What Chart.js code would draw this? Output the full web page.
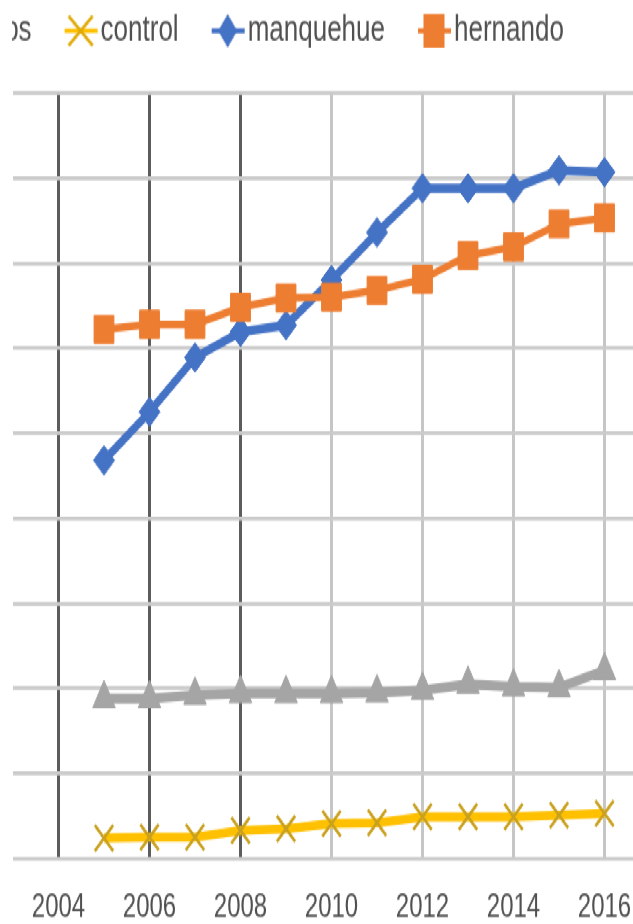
<!DOCTYPE html>
<html>
<head>
<meta charset="utf-8">
<script src="https://cdn.jsdelivr.net/npm/chart.js@4.4.1/dist/chart.umd.min.js"></script>
<style>
  html, body { margin: 0; padding: 0; background: #fff; overflow: hidden; width: 633px; height: 924px; }
  /* the chart is laid out in a short frame and stretched to the page height */
  #frame { position: absolute; left: 12px; top: 0; width: 621px; height: 660px; overflow: hidden;
           transform: scaleY(1.4); transform-origin: 0 0; background: #fff; }
  #chart { position: absolute; top: 0; }
</style>
</head>
<body>
<div id="frame"><canvas id="chart"></canvas></div>
<script>
// ---- data ----
const years = [2005, 2006, 2007, 2008, 2009, 2010, 2011, 2012, 2013, 2014, 2015, 2016];
const xTickLabels = [2004, 2006, 2008, 2010, 2012, 2014, 2016];
const seriesNames = ['todos', 'control', 'manquehue', 'hernando'];
const todos     = [18.8, 18.8, 19.2, 19.4, 19.4, 19.4, 19.5, 19.8, 20.5, 20.2, 20.1, 22.1];
const control   = [2.4, 2.5, 2.5, 3.3, 3.5, 4.1, 4.2, 4.9, 4.9, 4.9, 5.1, 5.3];
const manquehue = [46.8, 52.5, 58.9, 61.9, 62.7, 68.0, 73.6, 78.8, 78.8, 78.8, 80.9, 80.7];
const hernando  = [62.2, 62.8, 62.8, 64.8, 65.9, 66.0, 66.8, 68.1, 70.9, 71.9, 74.6, 75.3];

// ---- look ----
const GRAY = '#a5a5a5', GOLD = '#ffc000', BLUE = '#4472c4', ORANGE = '#ed7d31';
const TEXT = '#505050';
const FONT = '"Liberation Sans", Arial, sans-serif';
const LEG_FONT = 26, LEG_PAD = 6, LEG_BOX = 50;

// position the canvas so the legend row starts off to the left of the frame
const measure = document.createElement('canvas').getContext('2d');
measure.font = LEG_FONT + 'px ' + FONT;
const firstLabelW = measure.measureText(seriesNames[0]).width;
const canvasLeft = Math.round(32 - (LEG_PAD + LEG_BOX + LEG_FONT / 2 + firstLabelW));
const plotLeft = 13;
const canvas = document.getElementById('chart');
canvas.width = 633 - canvasLeft;
canvas.height = 663;
canvas.style.left = (canvasLeft - 12) + 'px';

// legend icons: a short piece of the series line with its marker
function legendIcon(color, lineW, drawMark) {
  const c = document.createElement('canvas');
  c.width = LEG_BOX + LEG_FONT;
  c.height = 30;
  const g = c.getContext('2d');
  const cy = 15, cx = c.width - 20;
  g.strokeStyle = color;
  g.lineWidth = lineW;
  g.beginPath(); g.moveTo(cx - 16, cy); g.lineTo(cx + 17, cy); g.stroke();
  drawMark(g, cx, cy);
  return c;
}
const legendIcons = [
  legendIcon(GRAY, 4, (g, x, y) => {
    g.fillStyle = GRAY; g.beginPath();
    g.moveTo(x, y - 12); g.lineTo(x + 11, y + 8); g.lineTo(x - 11, y + 8); g.closePath(); g.fill();
  }),
  legendIcon(GOLD, 3, (g, x, y) => {
    g.strokeStyle = '#e0aa08'; g.lineWidth = 2.5; g.beginPath();
    g.moveTo(x - 12, y - 10.5); g.lineTo(x + 12, y + 10.5);
    g.moveTo(x + 12, y - 10.5); g.lineTo(x - 12, y + 10.5); g.stroke();
  }),
  legendIcon(BLUE, 3.5, (g, x, y) => {
    g.fillStyle = BLUE; g.beginPath();
    g.moveTo(x, y - 12); g.lineTo(x + 9.5, y); g.lineTo(x, y + 12); g.lineTo(x - 9.5, y); g.closePath(); g.fill();
  }),
  legendIcon(ORANGE, 3.5, (g, x, y) => {
    g.fillStyle = ORANGE; g.fillRect(x - 10.5, y - 12, 21, 24);
  })
];

const toPoints = arr => years.map((x, i) => ({ x, y: arr[i] }));

new Chart(canvas, {
  type: 'line',
  data: {
    datasets: [
      { label: seriesNames[0], data: toPoints(todos), order: 4,
        borderColor: GRAY, backgroundColor: GRAY, borderWidth: 7,
        pointStyle: 'triangle', pointRadius: 13, pointBorderWidth: 1,
        pointBackgroundColor: GRAY, pointBorderColor: GRAY },
      { label: seriesNames[1], data: toPoints(control), order: 3,
        borderColor: GOLD, backgroundColor: GOLD, borderWidth: 6.5,
        pointStyle: 'crossRot', pointRadius: 13, pointBorderWidth: 2.5,
        pointBorderColor: '#c9a11f' },
      { label: seriesNames[2], data: toPoints(manquehue), order: 2,
        borderColor: BLUE, backgroundColor: BLUE, borderWidth: 6.5,
        pointStyle: 'rectRot', pointRadius: 10.5, pointBorderWidth: 1,
        pointBackgroundColor: BLUE, pointBorderColor: BLUE },
      { label: seriesNames[3], data: toPoints(hernando), order: 1,
        borderColor: ORANGE, backgroundColor: ORANGE, borderWidth: 5.5,
        pointStyle: 'rect', pointRadius: 14, pointBorderWidth: 1,
        pointBackgroundColor: ORANGE, pointBorderColor: ORANGE }
    ]
  },
  options: {
    responsive: false,
    animation: false,
    devicePixelRatio: 1,
    layout: { autoPadding: false, padding: { top: 3, left: 0, right: 0, bottom: 0 } },
    elements: { line: { tension: 0 } },
    plugins: {
      legend: {
        position: 'top',
        align: 'start',
        labels: {
          usePointStyle: true,
          pointStyleWidth: LEG_BOX,
          padding: LEG_PAD,
          color: TEXT,
          font: { family: FONT, size: LEG_FONT },
          generateLabels(chart) {
            const items = Chart.defaults.plugins.legend.labels.generateLabels(chart);
            items.forEach(it => { it.pointStyle = legendIcons[it.datasetIndex]; });
            return items;
          },
          sort: (a, b) => a.datasetIndex - b.datasetIndex
        }
      },
      // empty spacer between the legend row and the plot
      title: { display: true, text: '', weight: 500, padding: 0, font: { size: 21.4, lineHeight: 1 } },
      tooltip: { enabled: false }
    },
    scales: {
      x: {
        type: 'linear',
        min: 2003,
        max: 2016.626,
        afterBuildTicks(scale) { scale.ticks = xTickLabels.map(v => ({ value: v })); },
        border: { display: false },
        grid: {
          drawTicks: true,
          tickLength: 21,
          tickColor: 'rgba(0,0,0,0)',
          lineWidth: 3,
          color: ctx => (ctx.tick && ctx.tick.value <= 2008) ? '#5c5c5c' : '#c6c6c6'
        },
        ticks: {
          padding: 0,
          autoSkip: false,
          maxRotation: 0,
          color: TEXT,
          font: { family: FONT, size: 24 },
          callback: v => String(v)
        }
      },
      y: {
        min: 0,
        max: 90,
        border: { display: false },
        grid: { drawTicks: false, lineWidth: 2.8, color: '#cbcbcb' },
        ticks: { display: false, stepSize: 10 },
        afterFit(scale) { scale.width = plotLeft - canvasLeft; }
      }
    }
  }
});
</script>
</body>
</html>
